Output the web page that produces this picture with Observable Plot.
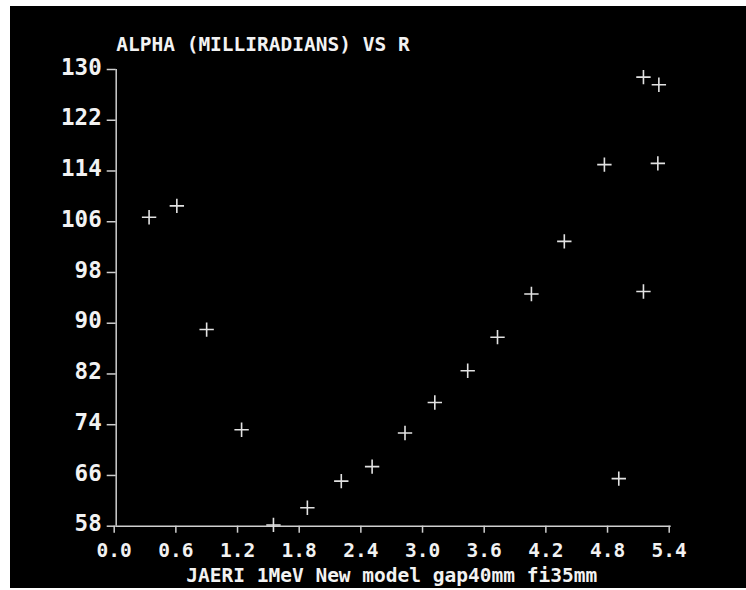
<!DOCTYPE html>
<html>
<head>
<meta charset="utf-8">
<script src="https://cdn.jsdelivr.net/npm/d3@7"></script>
<script src="https://cdn.jsdelivr.net/npm/@observablehq/plot@0.6"></script>
<style>
  html, body { margin: 0; padding: 0; background: #ffffff; }
  #chart { position: absolute; left: 10px; top: 6px; }
  #chart svg { display: block; }
</style>
</head>
<body>
<div id="chart"></div>
<script>
// Data
const rValues = [0.32, 0.59, 0.88, 1.22, 1.53, 1.86, 2.19, 2.49, 2.81, 3.10, 3.42, 3.71, 4.04, 4.36, 4.75, 5.13, 5.28, 5.27, 5.13, 4.89];
const alphaValues = [106.7, 108.5, 89.0, 73.2, 58.2, 60.9, 65.1, 67.4, 72.7, 77.5, 82.5, 87.8, 94.6, 102.9, 115.0, 128.8, 127.6, 115.2, 95.0, 65.5];
const xTickValues = [0.0, 0.6, 1.2, 1.8, 2.4, 3.0, 3.6, 4.2, 4.8, 5.4];
const yTickValues = [58, 66, 74, 82, 90, 98, 106, 114, 122, 130];
const titleText = "ALPHA (MILLIRADIANS) VS R";
const captionText = "JAERI 1MeV New model gap40mm fi35mm";

const points = rValues.map((r, i) => ({r, alpha: alphaValues[i]}));

const axisColor = "#cfcfcf";
const textColor = "#f2f2f2";

const chart = Plot.plot({
  width: 736,
  height: 582,
  marginLeft: 105.7,
  marginRight: 75.3,
  marginTop: 63,
  marginBottom: 62.3,
  style: {
    background: "#000000",
    color: textColor,
    fontFamily: "'DejaVu Sans Mono', monospace",
    fontSize: "19.5px",
    fontWeight: "bold"
  },
  x: {domain: [0, 5.4], nice: false},
  y: {domain: [58, 130], nice: false},
  marks: [
    Plot.ruleX([0], {y1: 58, y2: 130, stroke: axisColor, strokeWidth: 1.5}),
    Plot.ruleY([58], {x1: 0, x2: 5.4, stroke: axisColor, strokeWidth: 1.5}),
    Plot.axisY({
      ticks: yTickValues, tickSize: 9, tickFormat: () => "", label: null,
      stroke: axisColor, strokeWidth: 1.5
    }),
    Plot.text(yTickValues, {
      y: d => d, text: d => String(d), frameAnchor: "left", textAnchor: "end",
      dx: -14.5, dy: -2, fontSize: 22.5, fill: textColor
    }),
    Plot.axisX({
      ticks: xTickValues, tickFormat: d => d.toFixed(1), tickSize: 7, tickPadding: 10, label: null,
      stroke: axisColor, fill: textColor, strokeWidth: 1.5, dx: -2
    }),
    Plot.dot(points, {x: "r", y: "alpha", symbol: "plus", r: 4.7, stroke: "#e2e2e2", strokeWidth: 1.6}),
    Plot.text([titleText], {
      frameAnchor: "top-left", textAnchor: "start", lineAnchor: "bottom",
      dy: -19, dx: 0, fill: textColor
    }),
    Plot.text([captionText], {
      frameAnchor: "bottom", textAnchor: "middle", lineAnchor: "bottom",
      dy: 56, dx: -2, fill: textColor
    })
  ]
});

document.getElementById("chart").appendChild(chart);
</script>
</body>
</html>
